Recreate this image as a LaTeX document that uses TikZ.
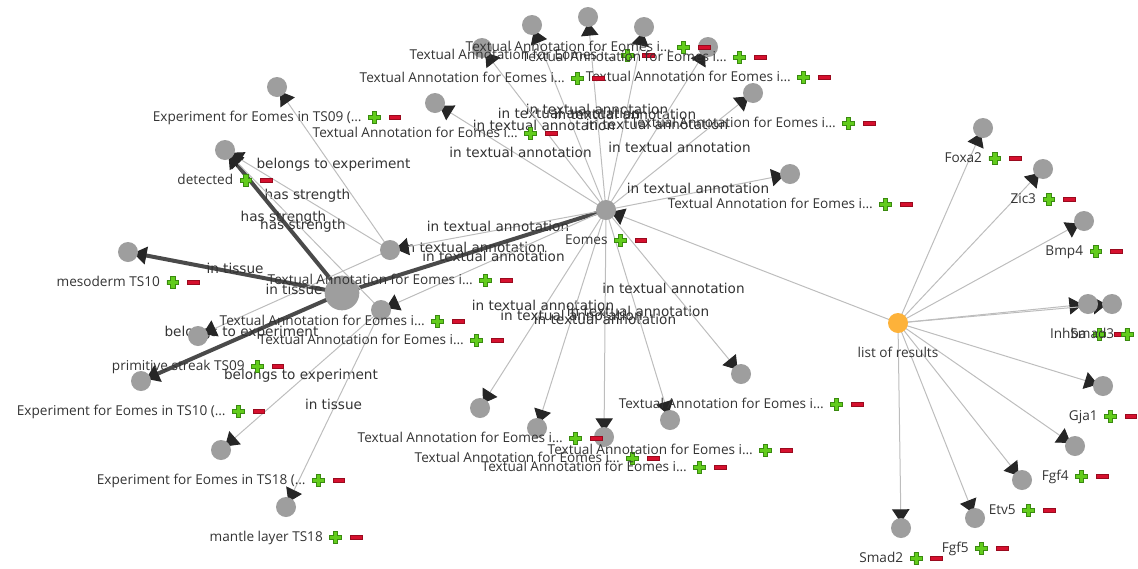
\documentclass[tikz,border=0pt]{standalone}
\usepackage{fontspec}
\setmainfont{Open Sans}
\newfontfamily\edgefont{DejaVu Sans}
\usetikzlibrary{positioning,arrows.meta,backgrounds}

\definecolor{vtxgray}{HTML}{9E9E9E}
\definecolor{hubor}{HTML}{FDB23A}
\definecolor{edgec}{HTML}{BDBDBD}
\definecolor{strongc}{HTML}{4A4A4A}
\definecolor{tipc}{HTML}{262626}
\definecolor{txtc}{HTML}{333333}
\definecolor{plusg}{HTML}{62CC1C}
\definecolor{plusd}{HTML}{3A8A10}
\definecolor{minr}{HTML}{D6102E}
\definecolor{mind}{HTML}{9A0A1E}

\tikzset{
  vtx/.style={circle,fill=vtxgray,minimum size=15pt,inner sep=0pt},
  bigvtx/.style={vtx,minimum size=26pt},
  resvtx/.style={vtx,fill=hubor},
  lbl/.style={font=\fontsize{10.2}{11}\selectfont,text=txtc,inner sep=0pt,anchor=base},
  elbl/.style={midway,font=\edgefont\fontsize{10.2}{11}\selectfont,text=txtc,inner sep=0pt,yshift=3pt},
  rel/.style={draw=edgec,line width=0.75pt,shorten >=4pt,-{Triangle[length=10pt,width=13pt,color=tipc]}},
  strongrel/.style={rel,draw=strongc,line width=3pt},
}

% the green plus and red minus after each label
\newcommand{\ctrls}{\hspace{5pt}%
  \tikz[x=1pt,y=1pt,baseline=-3.2pt]\filldraw[fill=plusg,draw=plusd,line width=0.5pt]
    (-1.6,-4.4) -- (1.6,-4.4) -- (1.6,-1.6) -- (4.4,-1.6) -- (4.4,1.6) -- (1.6,1.6) -- (1.6,4.4)
    -- (-1.6,4.4) -- (-1.6,1.6) -- (-4.4,1.6) -- (-4.4,-1.6) -- (-1.6,-1.6) -- cycle;%
  \hspace{6pt}%
  \tikz[x=1pt,y=1pt,baseline=-3.2pt]\filldraw[fill=minr,draw=mind,line width=0.5pt] (-4.4,-1.6) rectangle (4.4,1.6);}
\newcommand{\taname}{Textual Annotation for Eomes i…}

\begin{document}
\begin{tikzpicture}[x=0.75pt,y=-0.75pt]
  \useasboundingbox (0,0) rectangle (1138,568);

  % hubs
  \node[vtx] (eomes) at (606,210) {};
  \node[resvtx] (lor) at (898,323) {};
  \node[bigvtx] (ta0) at (342,293) {};

  % textual annotations
  \node[vtx] (ta1) at (390,250) {};
  \node[vtx] (ta2) at (381,310) {};
  \node[vtx] (ta3) at (532,25) {};
  \node[vtx] (ta4) at (588,17) {};
  \node[vtx] (ta5) at (644,27) {};
  \node[vtx] (ta6) at (708,47) {};
  \node[vtx] (ta7) at (753,93) {};
  \node[vtx] (ta8) at (790,174) {};
  \node[vtx] (ta9) at (482,48) {};
  \node[vtx] (ta10) at (435,103) {};
  \node[vtx] (ta11) at (480,408) {};
  \node[vtx] (ta12) at (537,428) {};
  \node[vtx] (ta13) at (604,437) {};
  \node[vtx] (ta14) at (670,420) {};
  \node[vtx] (ta15) at (741,374) {};

  % strength, tissues, experiments
  \node[vtx] (det) at (225,150) {};
  \node[vtx] (exp09) at (277,87) {};
  \node[vtx] (exp10) at (141,381) {};
  \node[vtx] (exp18) at (221,450) {};
  \node[vtx] (mes10) at (128,252) {};
  \node[vtx] (ps09) at (198,336) {};
  \node[vtx] (ml18) at (286,507) {};

  % genes
  \node[vtx] (foxa2) at (983,128) {};
  \node[vtx] (zic3) at (1043,169) {};
  \node[vtx] (bmp4) at (1084,221) {};
  \node[vtx] (inhba) at (1088,304) {};
  \node[vtx] (smad3) at (1112,304) {};
  \node[vtx] (gja1) at (1103,386) {};
  \node[vtx] (fgf4) at (1075,446) {};
  \node[vtx] (etv5) at (1022,480) {};
  \node[vtx] (fgf5) at (975,518) {};
  \node[vtx] (smad2) at (901,528) {};

  \begin{pgfonlayer}{background}
    \draw[strongrel,-] (eomes.center) -- (ta0.center) node[elbl]{in textual annotation};
    \foreach \nd in {ta1,ta2,ta3,ta4,ta5,ta6,ta7,ta8,ta9,ta10,ta11,ta12,ta13,ta14,ta15}
      \draw[rel] (eomes.center) -- (\nd.center) node[elbl]{in textual annotation};
    \draw[strongrel] (ta0.center) -- (det.center) node[elbl]{has strength};
    \draw[strongrel] (ta0.center) -- (mes10.center) node[elbl]{in tissue};
    \draw[strongrel] (ta0.center) -- (exp10.center) node[elbl]{belongs to experiment};
    \draw[rel] (ta1.center) -- (det.center) node[elbl]{has strength};
    \draw[rel] (ta1.center) -- (exp09.center) node[elbl]{belongs to experiment};
    \draw[rel] (ta1.center) -- (ps09.center) node[elbl]{in tissue};
    \draw[rel] (ta2.center) -- (det.center) node[elbl]{has strength};
    \draw[rel] (ta2.center) -- (exp18.center) node[elbl]{belongs to experiment};
    \draw[rel] (ta2.center) -- (ml18.center) node[elbl]{in tissue};
    \foreach \nd in {eomes,foxa2,zic3,bmp4,inhba,smad3,gja1,fgf4,etv5,fgf5,smad2}
      \draw[rel] (lor.center) -- (\nd.center);
  \end{pgfonlayer}

  % labels under the nodes
  \node[lbl] (eomes-l) at ([yshift=-26pt]eomes.center) {Eomes\ctrls};
  \node[lbl] (lor-l) at ([yshift=-26pt]lor.center) {list of results};
  \node[lbl] (ta0-l) at ([yshift=-24.5pt]ta0.center) {\taname\ctrls};
  \foreach \nd in {ta1,ta2,ta3,ta4,ta5,ta6,ta7,ta8,ta9,ta10,ta11,ta12,ta13,ta14,ta15}
    \node[lbl] (\nd-l) at ([yshift=-26pt]\nd.center) {\taname\ctrls};
  \node[lbl] (det-l) at ([yshift=-26pt]det.center) {detected\ctrls};
  \node[lbl] (exp09-l) at ([yshift=-26pt]exp09.center) {Experiment for Eomes in TS09 (…\ctrls};
  \node[lbl] (exp10-l) at ([yshift=-26pt]exp10.center) {Experiment for Eomes in TS10 (…\ctrls};
  \node[lbl] (exp18-l) at ([yshift=-26pt]exp18.center) {Experiment for Eomes in TS18 (…\ctrls};
  \node[lbl] (mes10-l) at ([yshift=-26pt]mes10.center) {mesoderm TS10\ctrls};
  \node[lbl] (ps09-l) at ([yshift=-26pt]ps09.center) {primitive streak TS09\ctrls};
  \node[lbl] (ml18-l) at ([yshift=-26pt]ml18.center) {mantle layer TS18\ctrls};
  \node[lbl] (foxa2-l) at ([yshift=-26pt]foxa2.center) {Foxa2\ctrls};
  \node[lbl] (zic3-l) at ([yshift=-26pt]zic3.center) {Zic3\ctrls};
  \node[lbl] (bmp4-l) at ([yshift=-26pt]bmp4.center) {Bmp4\ctrls};
  \node[lbl] (inhba-l) at ([yshift=-26pt]inhba.center) {Inhba\ctrls};
  \node[lbl] (smad3-l) at ([yshift=-26pt]smad3.center) {Smad3\ctrls};
  \node[lbl] (gja1-l) at ([yshift=-26pt]gja1.center) {Gja1\ctrls};
  \node[lbl] (fgf4-l) at ([yshift=-26pt]fgf4.center) {Fgf4\ctrls};
  \node[lbl] (etv5-l) at ([yshift=-26pt]etv5.center) {Etv5\ctrls};
  \node[lbl] (fgf5-l) at ([yshift=-26pt]fgf5.center) {Fgf5\ctrls};
  \node[lbl] (smad2-l) at ([yshift=-26pt]smad2.center) {Smad2\ctrls};
\end{tikzpicture}
\end{document}
